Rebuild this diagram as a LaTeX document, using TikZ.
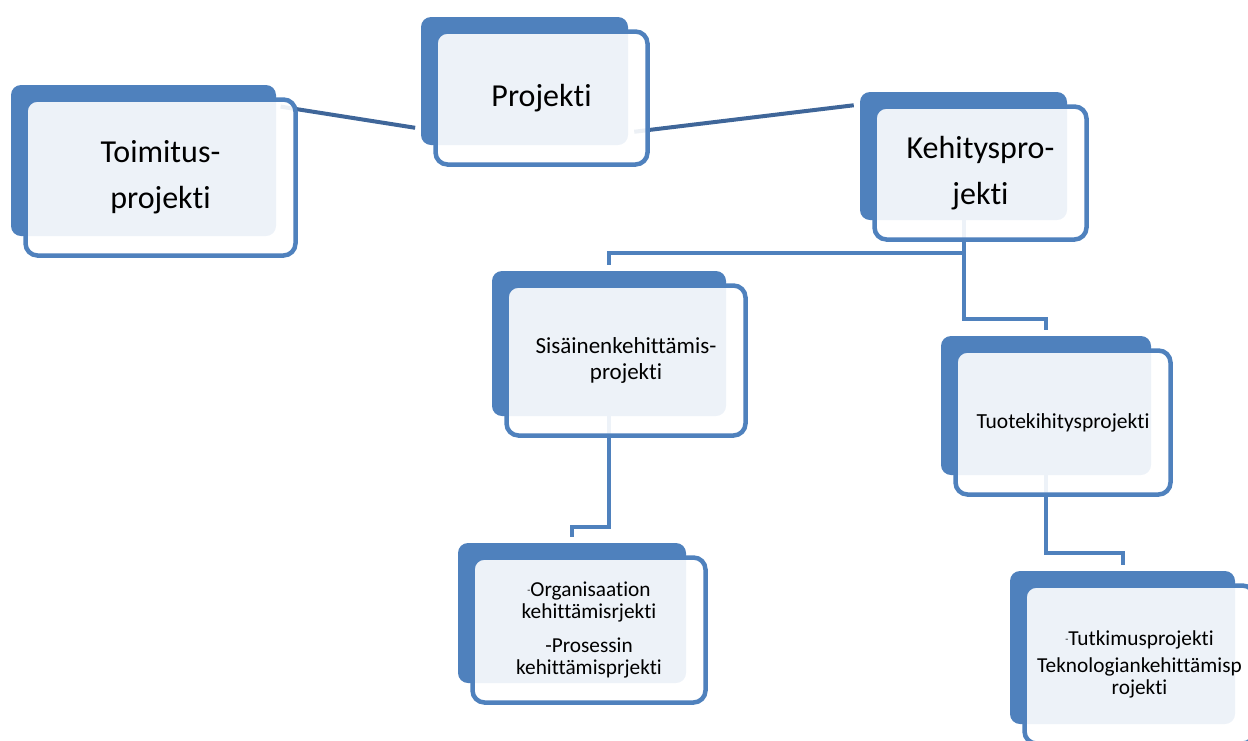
\documentclass[tikz,border=0pt]{standalone}
\usepackage{fontspec}
\setmainfont{Carlito}[Ligatures=NoCommon]
\usetikzlibrary{calc}
\definecolor{boxblue}{HTML}{4F81BD}
\definecolor{linkblue}{HTML}{3F6699}
\pgfdeclarelayer{background}
\pgfsetlayers{background,main}
\newcommand{\smalldash}{\raisebox{3pt}{\fontsize{10}{10}\selectfont-}}

\tikzset{
  backbox/.style={fill=boxblue, rounded corners=10pt, inner sep=0pt, outer sep=0pt},
  frontbox/.style={draw=boxblue, line width=4.5pt, fill=white, fill opacity=0.9, text opacity=1,
    rounded corners=12pt, inner sep=0pt, outer sep=0pt, align=center},
  bigtext/.style={font=\fontsize{32}{46}\selectfont},
  midtext/.style={font=\fontsize{23}{26}\selectfont},
  listtext/.style={font=\fontsize{21.3}{22}\selectfont},
  tree/.style={draw=boxblue, line width=4pt, shorten >=6pt},
  slant/.style={draw=linkblue, line width=4pt}
}

\begin{document}
\begin{tikzpicture}[x=1pt, y=-1pt]
\clip (0,0) rectangle (1248,740);

% back boxes
\node[backbox, minimum width=265, minimum height=151] (toim-b) at (143.5,160.5) {};
\node[backbox, minimum width=207, minimum height=128] (proj-b) at (524.5,81) {};
\node[backbox, minimum width=207, minimum height=128] (keh-b) at (963.5,156) {};
\node[backbox, minimum width=234, minimum height=145] (sis-b) at (609,343.5) {};
\node[backbox, minimum width=210, minimum height=139] (tuote-b) at (1046,405.5) {};
\node[backbox, minimum width=228, minimum height=140] (org-b) at (572,613) {};
\node[backbox, minimum width=225, minimum height=153] (tutk-b) at (1122.5,647.5) {};

% front boxes with the texts
\node[frontbox, bigtext, minimum width=270, minimum height=156] (toim) at ($(toim-b)+(17,17)$) {Toimitus-\\projekti};
\node[frontbox, bigtext, minimum width=212, minimum height=133] (proj) at ($(proj-b)+(17,17)$) {Projekti};
\node[frontbox, bigtext, minimum width=212, minimum height=133] (keh) at ($(keh-b)+(17,17)$) {Kehityspro-\\jekti};
\node[frontbox, midtext, minimum width=239, minimum height=150] (sis) at ($(sis-b)+(17,17)$) {Sisäinenkehittämis-\\projekti};
\node[frontbox, font=\fontsize{21.5}{24}\selectfont, minimum width=215, minimum height=144] (tuote) at ($(tuote-b)+(17,17)$) {Tuotekihitysprojekti};
\node[frontbox, listtext, minimum width=233, minimum height=145] (org) at ($(org-b)+(17,17)$)
  {\smalldash Organisaation\\kehittämisrjekti\\[12pt]-Prosessin\\kehittämisprjekti};
\node[frontbox, listtext, minimum width=230, minimum height=158] (tutk) at ($(tutk-b)+(17,17)$)
  {\smalldash Tutkimusprojekti\\[5pt]Teknologiankehittämisp\\rojekti};

% connectors behind the boxes
\begin{pgfonlayer}{background}
\draw[slant] ($(toim-b.north)!0.36!(proj-b.south)$) -- ($(toim-b.north)!0.713!(proj-b.south)$);
\draw[slant] ($(proj-b.south)!0.25!(keh-b.north)$) -- ($(proj-b.south)!0.75!(keh-b.north)$);
\draw[tree] (keh-b.south) -- ++(0,33) -| (sis-b.north);
\draw[tree] (keh-b.south) -- ++(0,99) -| (tuote-b.north);
\draw[tree] (sis-b.south) -- ++(0,111) -| (org-b.north);
\draw[tree] (tuote-b.south) -- ++(0,78) -| (tutk-b.north);
\end{pgfonlayer}
\end{tikzpicture}
\end{document}
